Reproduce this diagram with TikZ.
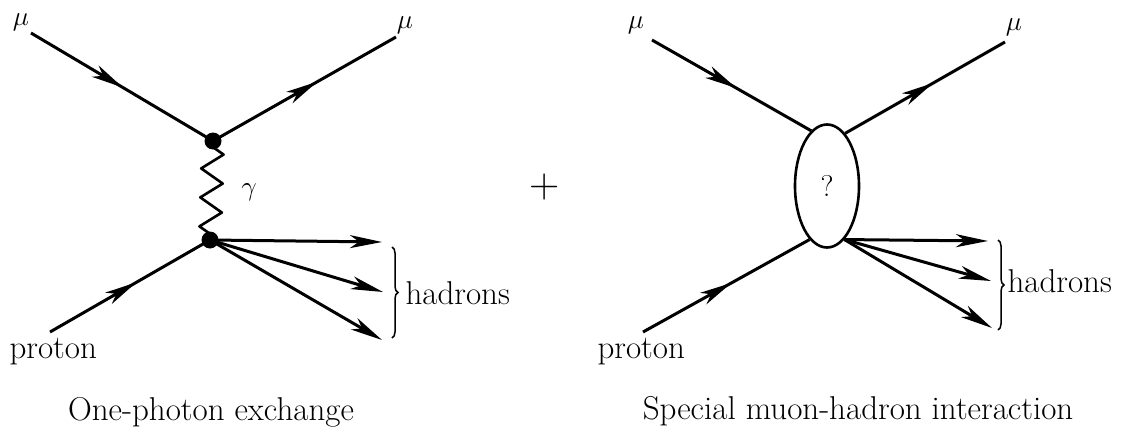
\documentclass[tikz,border=0pt]{standalone}
\usetikzlibrary{arrows.meta,decorations.pathmorphing,decorations.markings,decorations.pathreplacing,shapes.geometric}
\begin{document}
\begin{tikzpicture}[x=1pt,y=-1pt,
  line width=3pt,
  endtip/.style={-{Stealth[length=32pt,width=13pt,inset=9pt]}},
  midarrow/.style={postaction={decorate},decoration={markings,mark=at position #1 with {\arrow{Stealth[length=32pt,width=13pt,inset=9pt]}}}},
  dot/.style={circle,fill,inner sep=0pt,minimum size=17pt},
  txt/.style={font=\fontsize{33}{40}\selectfont,inner sep=0pt},
  greek/.style={font=\fontsize{24.88}{30}\selectfont,inner sep=0pt,scale=1.1},
  bracestyle/.style={line width=1.5pt,decorate,decoration={brace,amplitude=6pt}},
  photon/.style={line width=2.6pt,line join=round,decorate,decoration={zigzag,amplitude=11pt,segment length=29pt,pre length=6pt,post length=6pt}}
]
\useasboundingbox (0,0) rectangle (1121,431);

% ---------- left diagram ----------
\node[dot] (vA1) at (213,141) {};
\node[dot] (vA2) at (210,240) {};
\coordinate (muinA) at (31,33);
\coordinate (muoutA) at (396,37);
\coordinate (pA) at (50,332);
\coordinate (hA1) at (382,242);
\coordinate (hA2) at (383,292);
\coordinate (hA3) at (382,340);
\coordinate (bAt) at (392,247);
\coordinate (bAb) at (392,338);

\draw[midarrow=0.505] (muinA) -- (vA1.center);
\draw[midarrow=0.57] (vA1.center) -- (muoutA);
\draw[midarrow=0.54] (pA) -- (vA2.center);
\draw[photon] (vA1.center) -- (vA2.center);
\draw[endtip] (vA2.center) -- (hA1);
\draw[endtip] (vA2.center) -- (hA2);
\draw[endtip] (vA2.center) -- (hA3);
\draw[bracestyle] (bAt) -- (bAb);

\node[greek] (muA1) at (21,22) {$\mu$};
\node[greek] (muA2) at (405,25) {$\mu$};
\node[greek] (gam) at (249,192) {$\gamma$};
\node[txt,anchor=base west] (protA) at (8,358) {proton};
\node[txt,anchor=base west] (hadA) at (404,304) {hadrons};
\node[txt,anchor=base] (capA) at (211,420) {One-photon exchange};

% ---------- plus ----------
\node[font=\fontsize{42}{46}\selectfont,inner sep=0pt] (plus) at (545,187) {+};

% ---------- right diagram ----------
\node[draw,ellipse,minimum width=64pt,minimum height=123pt,line width=2.6pt,inner sep=0pt,font=\fontsize{30}{34}\selectfont] (blob) at (827,186) {?};
\coordinate (muinB) at (652,40);
\coordinate (muoutB) at (1005,42);
\coordinate (pB) at (643,332);
\coordinate (hB1) at (988,241);
\coordinate (hB2) at (991,281);
\coordinate (hB3) at (992,328);
\coordinate (bBt) at (998,240);
\coordinate (bBb) at (998,330);

\draw[midarrow=0.53] (muinB) -- (blob.106);
\draw[midarrow=0.55] (blob.71) -- (muoutB);
\draw[midarrow=0.53] (pB) -- (blob.252);
\draw[endtip] (blob.288) -- (hB1);
\draw[endtip] (blob.288) -- (hB2);
\draw[endtip] (blob.288) -- (hB3);
\draw[bracestyle] (bBt) -- (bBb);

\node[greek] (muB1) at (636,25) {$\mu$};
\node[greek] (muB2) at (1014,27) {$\mu$};
\node[txt,anchor=base west] (protB) at (596,358) {proton};
\node[txt,anchor=base west] (hadB) at (1006,292) {hadrons};
\node[txt,anchor=base] (capB) at (858,419) {Special muon-hadron interaction};
\end{tikzpicture}
\end{document}
